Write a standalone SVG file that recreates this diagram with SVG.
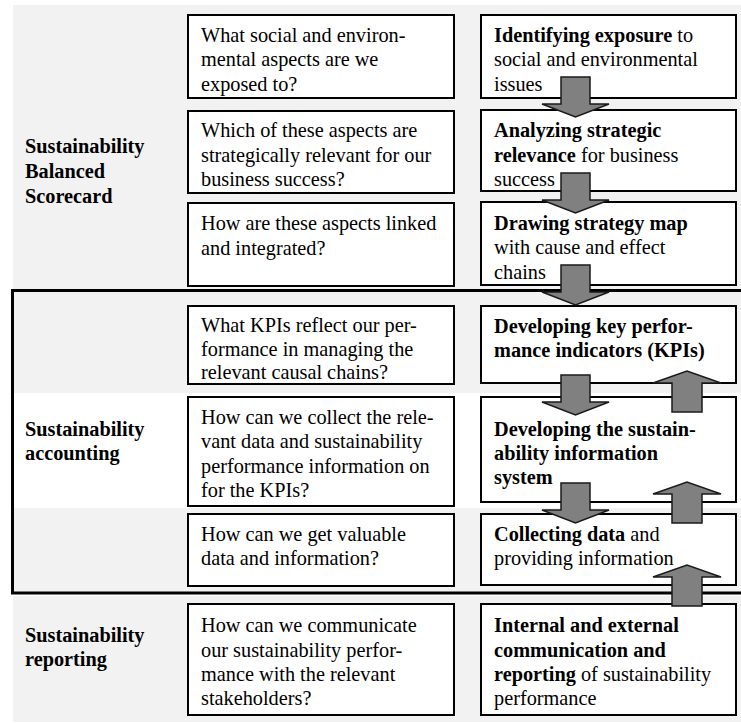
<svg xmlns="http://www.w3.org/2000/svg" width="741" height="724" viewBox="0 0 741 724">
  <style>
    .box { fill: #ffffff; stroke: #000000; stroke-width: 2; }
    .t { font-family: "Liberation Serif", "Times New Roman", serif; font-size: 20.3px; fill: #000000; }
    .b { font-weight: bold; }
    .lbl { font-family: "Liberation Serif", "Times New Roman", serif; font-size: 20.3px; font-weight: bold; fill: #000000; }
    .arrow { fill: #808080; stroke: #1a1a1a; stroke-width: 1.5; stroke-linejoin: miter; }
    .frame { fill: none; stroke: #000000; stroke-width: 3; }
  </style>
  <defs>
    <!-- block arrows, drawn around their own origin (tip at 0,0) -->
    <path id="arrowDown" d="M-14.5,-40 H14.5 V-13 H33.5 L0,0 L-33.5,-13 H-14.5 Z"/>
    <path id="arrowUp" d="M-15,41 H15 V12 H34 L0,0 L-34,12 H-15 Z"/>
  </defs>

  <!-- background bands -->
  <g id="background">
    <rect x="13" y="5" width="728" height="717" fill="#f2f2f2"/>
    <rect x="14" y="393" width="727" height="115" fill="#ffffff"/>
    <rect x="13" y="594" width="728" height="2" fill="#ffffff"/>
  </g>

  <!-- section labels -->
  <g id="label-scorecard">
    <text class="lbl" x="25" y="153">Sustainability</text>
    <text class="lbl" x="25" y="178">Balanced</text>
    <text class="lbl" x="25" y="202.5">Scorecard</text>
  </g>
  <g id="label-accounting">
    <text class="lbl" x="25" y="436">Sustainability</text>
    <text class="lbl" x="25" y="460">accounting</text>
  </g>
  <g id="label-reporting">
    <text class="lbl" x="25" y="642">Sustainability</text>
    <text class="lbl" x="25" y="666">reporting</text>
  </g>

  <!-- accounting frame -->
  <path id="accounting-frame" class="frame" d="M741,290.5 H12.5 V593 H741"/>

  <!-- questions -->
  <g id="q1">
    <rect class="box" x="188" y="15" width="266" height="83"/>
    <text class="t" x="201" y="42">What social and environ-</text>
    <text class="t" x="201" y="66.4">mental aspects are we</text>
    <text class="t" x="201" y="90.8">exposed to?</text>
  </g>
  <g id="q2">
    <rect class="box" x="188" y="111" width="266" height="82"/>
    <text class="t" x="201" y="137">Which of these aspects are</text>
    <text class="t" x="201" y="161.5">strategically relevant for our</text>
    <text class="t" x="201" y="186">business success?</text>
  </g>
  <g id="q3">
    <rect class="box" x="188" y="203" width="266" height="83"/>
    <text class="t" x="201" y="230">How are these aspects linked</text>
    <text class="t" x="201" y="254.5">and integrated?</text>
  </g>
  <g id="q4">
    <rect class="box" x="188" y="306" width="266" height="78"/>
    <text class="t" x="201" y="332">What KPIs reflect our per-</text>
    <text class="t" x="201" y="355.5">formance in managing the</text>
    <text class="t" x="201" y="379">relevant causal chains?</text>
  </g>
  <g id="q5">
    <rect class="box" x="188" y="397" width="266" height="109"/>
    <text class="t" x="201" y="423.5">How can we collect the rele-</text>
    <text class="t" x="201" y="448">vant data and sustainability</text>
    <text class="t" x="201" y="472.5">performance information on</text>
    <text class="t" x="201" y="497">for the KPIs?</text>
  </g>
  <g id="q6">
    <rect class="box" x="188" y="514" width="266" height="72"/>
    <text class="t" x="201" y="541">How can we get valuable</text>
    <text class="t" x="201" y="565">data and information?</text>
  </g>
  <g id="q7">
    <rect class="box" x="188" y="604" width="266" height="111"/>
    <text class="t" x="201" y="632">How can we communicate</text>
    <text class="t" x="201" y="656.5">our sustainability perfor-</text>
    <text class="t" x="201" y="681">mance with the relevant</text>
    <text class="t" x="201" y="705">stakeholders?</text>
  </g>

  <!-- steps -->
  <g id="s1">
    <rect class="box" x="481" y="15" width="255" height="83"/>
    <text class="t" x="494" y="42"><tspan class="b">Identifying exposure</tspan> to</text>
    <text class="t" x="494" y="66.4">social and environmental</text>
    <text class="t" x="494" y="90.8">issues</text>
  </g>
  <g id="s2">
    <rect class="box" x="481" y="110" width="255" height="81"/>
    <text class="t b" x="494" y="137">Analyzing strategic</text>
    <text class="t" x="494" y="161.5"><tspan class="b">relevance</tspan> for business</text>
    <text class="t" x="494" y="186">success</text>
  </g>
  <g id="s3">
    <rect class="box" x="481" y="202" width="255" height="83"/>
    <text class="t b" x="494" y="229.5">Drawing strategy map</text>
    <text class="t" x="494" y="254">with cause and effect</text>
    <text class="t" x="494" y="278.5">chains</text>
  </g>
  <g id="s4">
    <rect class="box" x="481" y="306" width="255" height="77"/>
    <text class="t b" x="494" y="333">Developing key perfor-</text>
    <text class="t b" x="494" y="357">mance indicators (KPIs)</text>
  </g>
  <g id="s5">
    <rect class="box" x="481" y="397" width="255" height="105"/>
    <text class="t b" x="494" y="436">Developing the sustain-</text>
    <text class="t b" x="494" y="460">ability information</text>
    <text class="t b" x="494" y="484">system</text>
  </g>
  <g id="s6">
    <rect class="box" x="481" y="514" width="255" height="71"/>
    <text class="t" x="494" y="541"><tspan class="b">Collecting data</tspan> and</text>
    <text class="t" x="494" y="565">providing information</text>
  </g>
  <g id="s7">
    <rect class="box" x="481" y="604" width="255" height="111"/>
    <text class="t b" x="494" y="632">Internal and external</text>
    <text class="t b" x="494" y="656.5">communication and</text>
    <text class="t" x="494" y="681"><tspan class="b">reporting</tspan> of sustainability</text>
    <text class="t" x="494" y="705">performance</text>
  </g>

  <!-- connectors: downward flow and upward feedback -->
  <g id="connectors">
    <use href="#arrowDown" class="arrow" transform="translate(575.5,117)"/>
    <use href="#arrowDown" class="arrow" transform="translate(575.5,213)"/>
    <use href="#arrowDown" class="arrow" transform="translate(575.5,305)"/>
    <use href="#arrowDown" class="arrow" transform="translate(575.5,415)"/>
    <use href="#arrowDown" class="arrow" transform="translate(575.5,523)"/>
    <use href="#arrowUp" class="arrow" transform="translate(687,371)"/>
    <use href="#arrowUp" class="arrow" transform="translate(687,482)"/>
    <use href="#arrowUp" class="arrow" transform="translate(687,565)"/>
  </g>
</svg>
